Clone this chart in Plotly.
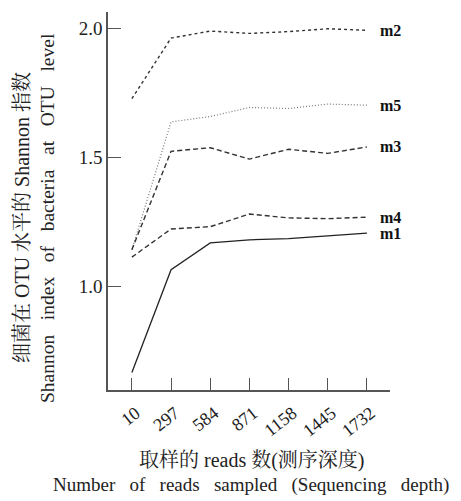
import plotly.graph_objects as go

depths = ["10", "297", "584", "871", "1158", "1445", "1732"]
m1 = [0.665, 1.063, 1.167, 1.179, 1.184, 1.195, 1.205]
m2 = [1.726, 1.961, 1.988, 1.979, 1.986, 1.997, 1.991]
m3 = [1.141, 1.522, 1.536, 1.492, 1.530, 1.514, 1.539]
m4 = [1.112, 1.221, 1.230, 1.279, 1.264, 1.261, 1.267]
m5 = [1.141, 1.636, 1.657, 1.692, 1.688, 1.705, 1.701]
series_names = ["m2", "m5", "m3", "m4", "m1"]

FONT = "Liberation Serif, Times New Roman, Noto Serif CJK SC, Noto Sans CJK SC, serif"
idx = list(range(len(depths)))

styles = {
    "m1": dict(color="#222222", width=1.3, dash="solid"),
    "m2": dict(color="#333333", width=1.4, dash="dot"),
    "m3": dict(color="#333333", width=1.4, dash="5px,3px"),
    "m4": dict(color="#333333", width=1.4, dash="5px,3px"),
    "m5": dict(color="#777777", width=1.2, dash="1px,2px"),
}
data = {"m1": m1, "m2": m2, "m3": m3, "m4": m4, "m5": m5}

# page body adds an 8px offset, so the figure is laid out 8px up/left
OFF = 8
L, T, PW, PH = 108 - OFF, 12 - OFF, 282, 378
W, H = 461, 501

fig = go.Figure()
for name in series_names:
    fig.add_trace(go.Scatter(x=idx, y=data[name], mode="lines", name=name,
                             line=styles[name], showlegend=False))
    fig.add_annotation(x=idx[-1], y=data[name][-1], xref="x", yref="y",
                       text="<b>" + name + "</b>", showarrow=False,
                       xanchor="left", yanchor="middle", xshift=11,
                       font=dict(family=FONT, size=16, color="#111111"))

fig.update_xaxes(range=[-0.61, 6.59], tickmode="array", tickvals=idx, ticktext=depths,
                 tickangle=-38, ticks="inside", ticklen=12, tickcolor="#555555",
                 ticklabelshift=4, ticklabelstandoff=4,
                 showline=True, linecolor="#555555", linewidth=1.5,
                 showgrid=False, zeroline=False, automargin=False,
                 tickfont=dict(family=FONT, size=18, color="#222222"))
fig.update_yaxes(range=[0.597, 2.062], tickvals=[1.0, 1.5, 2.0], ticktext=["1.0", "1.5", "2.0"],
                 ticks="inside", ticklen=13, tickcolor="#555555",
                 showline=True, linecolor="#555555", linewidth=1.5,
                 showgrid=False, zeroline=False, automargin=False,
                 tickfont=dict(family=FONT, size=19, color="#222222"))


def px(xr):
    return (xr - 108) / PW


def py(yr):
    return (390 - yr) / PH


sp = "&nbsp;&nbsp;&nbsp;"
fig.add_annotation(xref="paper", yref="paper", x=px(22), y=py(218),
                   xanchor="center", yanchor="middle",
                   text="细菌在 OTU 水平的 Shannon 指数", textangle=-90, showarrow=False,
                   font=dict(family=FONT, size=20, color="#222222"))
fig.add_annotation(xref="paper", yref="paper", x=px(47), y=py(218),
                   xanchor="center", yanchor="middle",
                   text=sp.join(["Shannon", "index", "of", "bacteria", "at", "OTU", "level"]),
                   textangle=-90, showarrow=False,
                   font=dict(family=FONT, size=19.5, color="#222222"))
fig.add_annotation(xref="paper", yref="paper", x=px(252), y=py(460),
                   xanchor="center", yanchor="middle",
                   text="取样的 reads 数(测序深度)", showarrow=False,
                   font=dict(family=FONT, size=20, color="#222222"))
fig.add_annotation(xref="paper", yref="paper", x=px(251), y=py(485),
                   xanchor="center", yanchor="middle",
                   text=sp.join(["Number", "of", "reads", "sampled", "(Sequencing", "depth)"]),
                   showarrow=False,
                   font=dict(family=FONT, size=19, color="#222222"))

fig.update_layout(width=W, height=H,
                  margin=dict(l=L, r=W - L - PW, t=T, b=H - T - PH),
                  plot_bgcolor="white", paper_bgcolor="white")
fig.write_html("out.html")
